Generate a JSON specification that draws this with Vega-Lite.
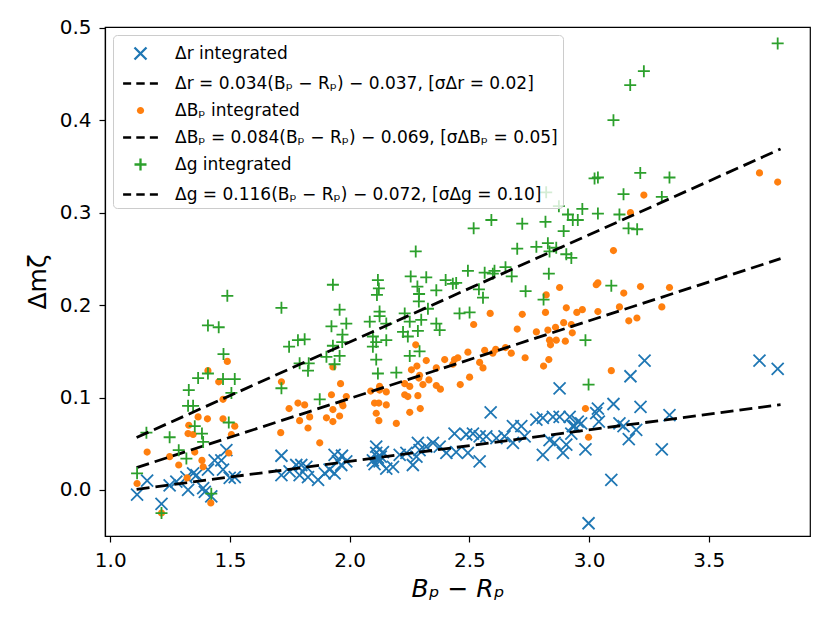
{
  "$schema": "https://vega.github.io/schema/vega-lite/v6.json",
  "width": 705,
  "height": 509,
  "autosize": {"type": "none"},
  "padding": {"left": 105, "top": 27, "right": 20, "bottom": 87},
  "background": "white",
  "config": {
    "font": "DejaVu Sans",
    "view": {"stroke": "black", "strokeWidth": 1.2},
    "axis": {
      "grid": false,
      "domainColor": "black",
      "domainWidth": 1.2,
      "tickColor": "black",
      "tickWidth": 1.2,
      "tickSize": 6,
      "labelColor": "black",
      "titleColor": "black",
      "labelFont": "DejaVu Sans",
      "titleFont": "DejaVu Sans",
      "labelFontSize": 20,
      "titleFontSize": 25,
      "titleFontWeight": "normal",
      "labelOverlap": false,
      "labelFlush": false
    }
  },
  "datasets": {
    "pts": [
      {"s": "r", "x": 1.112, "y": -0.005}, {"s": "r", "x": 1.154, "y": 0.010}, {"s": "r", "x": 1.214, "y": -0.015},
      {"s": "r", "x": 1.248, "y": 0.005}, {"s": "r", "x": 1.276, "y": 0.009}, {"s": "r", "x": 1.325, "y": 0.000},
      {"s": "r", "x": 1.318, "y": 0.014}, {"s": "r", "x": 1.346, "y": 0.018}, {"s": "r", "x": 1.360, "y": 0.016},
      {"s": "r", "x": 1.388, "y": 0.002}, {"s": "r", "x": 1.395, "y": -0.002}, {"s": "r", "x": 1.422, "y": -0.007},
      {"s": "r", "x": 1.408, "y": 0.022}, {"s": "r", "x": 1.436, "y": 0.032}, {"s": "r", "x": 1.464, "y": 0.032},
      {"s": "r", "x": 1.485, "y": 0.043}, {"s": "r", "x": 1.471, "y": 0.022}, {"s": "r", "x": 1.499, "y": 0.013},
      {"s": "r", "x": 1.520, "y": 0.014}, {"s": "r", "x": 1.715, "y": 0.037}, {"s": "r", "x": 1.715, "y": 0.016},
      {"s": "r", "x": 1.749, "y": 0.020}, {"s": "r", "x": 1.777, "y": 0.027}, {"s": "r", "x": 1.798, "y": 0.027},
      {"s": "r", "x": 1.819, "y": 0.025}, {"s": "r", "x": 1.791, "y": 0.016}, {"s": "r", "x": 1.826, "y": 0.014},
      {"s": "r", "x": 1.868, "y": 0.011}, {"s": "r", "x": 1.896, "y": 0.018}, {"s": "r", "x": 1.916, "y": 0.022},
      {"s": "r", "x": 1.937, "y": 0.018}, {"s": "r", "x": 1.937, "y": 0.038}, {"s": "r", "x": 1.951, "y": 0.031},
      {"s": "r", "x": 1.968, "y": 0.037}, {"s": "r", "x": 1.965, "y": 0.027}, {"s": "r", "x": 1.986, "y": 0.031},
      {"s": "r", "x": 2.097, "y": 0.032}, {"s": "r", "x": 2.111, "y": 0.040}, {"s": "r", "x": 2.111, "y": 0.047},
      {"s": "r", "x": 2.125, "y": 0.031}, {"s": "r", "x": 2.139, "y": 0.041}, {"s": "r", "x": 2.153, "y": 0.023},
      {"s": "r", "x": 2.118, "y": 0.035}, {"s": "r", "x": 2.130, "y": 0.036}, {"s": "r", "x": 2.104, "y": 0.028},
      {"s": "r", "x": 2.181, "y": 0.025}, {"s": "r", "x": 2.209, "y": 0.038}, {"s": "r", "x": 2.237, "y": 0.040},
      {"s": "r", "x": 2.264, "y": 0.027}, {"s": "r", "x": 2.279, "y": 0.036}, {"s": "r", "x": 2.292, "y": 0.043},
      {"s": "r", "x": 2.285, "y": 0.051}, {"s": "r", "x": 2.320, "y": 0.047}, {"s": "r", "x": 2.348, "y": 0.051},
      {"s": "r", "x": 2.376, "y": 0.047}, {"s": "r", "x": 2.404, "y": 0.040}, {"s": "r", "x": 2.445, "y": 0.041},
      {"s": "r", "x": 2.494, "y": 0.040}, {"s": "r", "x": 2.543, "y": 0.031}, {"s": "r", "x": 2.438, "y": 0.061},
      {"s": "r", "x": 2.487, "y": 0.060}, {"s": "r", "x": 2.515, "y": 0.061}, {"s": "r", "x": 2.543, "y": 0.058},
      {"s": "r", "x": 2.571, "y": 0.058}, {"s": "r", "x": 2.613, "y": 0.056}, {"s": "r", "x": 2.647, "y": 0.058},
      {"s": "r", "x": 2.682, "y": 0.069}, {"s": "r", "x": 2.717, "y": 0.069}, {"s": "r", "x": 2.731, "y": 0.058},
      {"s": "r", "x": 2.682, "y": 0.051}, {"s": "r", "x": 2.589, "y": 0.084}, {"s": "r", "x": 2.780, "y": 0.076},
      {"s": "r", "x": 2.807, "y": 0.078}, {"s": "r", "x": 2.849, "y": 0.079}, {"s": "r", "x": 2.877, "y": 0.079},
      {"s": "r", "x": 2.877, "y": 0.110}, {"s": "r", "x": 2.932, "y": 0.069}, {"s": "r", "x": 2.835, "y": 0.054},
      {"s": "r", "x": 2.856, "y": 0.051}, {"s": "r", "x": 2.807, "y": 0.038}, {"s": "r", "x": 2.891, "y": 0.040},
      {"s": "r", "x": 2.905, "y": 0.049}, {"s": "r", "x": 2.919, "y": 0.079}, {"s": "r", "x": 2.926, "y": 0.061},
      {"s": "r", "x": 2.939, "y": 0.069}, {"s": "r", "x": 2.953, "y": 0.074}, {"s": "r", "x": 2.967, "y": 0.072},
      {"s": "r", "x": 2.985, "y": 0.044}, {"s": "r", "x": 2.998, "y": -0.036}, {"s": "r", "x": 3.030, "y": 0.083},
      {"s": "r", "x": 3.037, "y": 0.088}, {"s": "r", "x": 3.041, "y": 0.074}, {"s": "r", "x": 3.093, "y": 0.011},
      {"s": "r", "x": 3.102, "y": 0.093}, {"s": "r", "x": 3.127, "y": 0.072}, {"s": "r", "x": 3.144, "y": 0.069},
      {"s": "r", "x": 3.166, "y": 0.055}, {"s": "r", "x": 3.173, "y": 0.123}, {"s": "r", "x": 3.197, "y": 0.065},
      {"s": "r", "x": 3.215, "y": 0.090}, {"s": "r", "x": 3.232, "y": 0.140}, {"s": "r", "x": 3.304, "y": 0.044},
      {"s": "r", "x": 3.336, "y": 0.081}, {"s": "r", "x": 3.712, "y": 0.140}, {"s": "r", "x": 3.788, "y": 0.131},

      {"s": "b", "x": 1.489, "y": 0.139}, {"s": "b", "x": 1.408, "y": 0.129}, {"s": "b", "x": 1.453, "y": 0.117},
      {"s": "b", "x": 1.715, "y": 0.117}, {"s": "b", "x": 1.962, "y": 0.115}, {"s": "b", "x": 1.930, "y": 0.133},
      {"s": "b", "x": 1.924, "y": 0.103}, {"s": "b", "x": 1.471, "y": 0.098}, {"s": "b", "x": 1.747, "y": 0.088},
      {"s": "b", "x": 1.784, "y": 0.094}, {"s": "b", "x": 1.812, "y": 0.092}, {"s": "b", "x": 1.968, "y": 0.094},
      {"s": "b", "x": 1.930, "y": 0.087}, {"s": "b", "x": 1.958, "y": 0.080}, {"s": "b", "x": 1.833, "y": 0.079},
      {"s": "b", "x": 1.791, "y": 0.075}, {"s": "b", "x": 1.903, "y": 0.078}, {"s": "b", "x": 1.930, "y": 0.074},
      {"s": "b", "x": 1.826, "y": 0.067}, {"s": "b", "x": 1.367, "y": 0.079}, {"s": "b", "x": 1.406, "y": 0.077},
      {"s": "b", "x": 1.471, "y": 0.077}, {"s": "b", "x": 1.520, "y": 0.069}, {"s": "b", "x": 1.328, "y": 0.070},
      {"s": "b", "x": 1.325, "y": 0.061}, {"s": "b", "x": 1.346, "y": 0.060}, {"s": "b", "x": 1.506, "y": 0.060},
      {"s": "b", "x": 1.712, "y": 0.062}, {"s": "b", "x": 1.875, "y": 0.051}, {"s": "b", "x": 1.154, "y": 0.041},
      {"s": "b", "x": 1.248, "y": 0.036}, {"s": "b", "x": 1.353, "y": 0.041}, {"s": "b", "x": 1.495, "y": 0.040},
      {"s": "b", "x": 1.286, "y": 0.027}, {"s": "b", "x": 1.383, "y": 0.032}, {"s": "b", "x": 1.388, "y": 0.025},
      {"s": "b", "x": 1.321, "y": 0.013}, {"s": "b", "x": 1.112, "y": 0.007}, {"s": "b", "x": 1.420, "y": -0.014},
      {"s": "b", "x": 1.214, "y": -0.025}, {"s": "b", "x": 2.877, "y": 0.219}, {"s": "b", "x": 2.821, "y": 0.211},
      {"s": "b", "x": 2.587, "y": 0.191}, {"s": "b", "x": 2.721, "y": 0.190}, {"s": "b", "x": 2.818, "y": 0.192},
      {"s": "b", "x": 2.905, "y": 0.197}, {"s": "b", "x": 2.949, "y": 0.192}, {"s": "b", "x": 2.518, "y": 0.179},
      {"s": "b", "x": 2.700, "y": 0.174}, {"s": "b", "x": 2.780, "y": 0.171}, {"s": "b", "x": 2.828, "y": 0.173},
      {"s": "b", "x": 2.860, "y": 0.176}, {"s": "b", "x": 2.894, "y": 0.181}, {"s": "b", "x": 2.926, "y": 0.179},
      {"s": "b", "x": 2.835, "y": 0.162}, {"s": "b", "x": 2.839, "y": 0.157}, {"s": "b", "x": 2.863, "y": 0.162},
      {"s": "b", "x": 2.901, "y": 0.161}, {"s": "b", "x": 2.276, "y": 0.157}, {"s": "b", "x": 2.494, "y": 0.149},
      {"s": "b", "x": 2.564, "y": 0.151}, {"s": "b", "x": 2.610, "y": 0.152}, {"s": "b", "x": 2.598, "y": 0.148},
      {"s": "b", "x": 2.651, "y": 0.154}, {"s": "b", "x": 2.675, "y": 0.148}, {"s": "b", "x": 2.733, "y": 0.143},
      {"s": "b", "x": 2.832, "y": 0.141}, {"s": "b", "x": 2.810, "y": 0.134}, {"s": "b", "x": 2.320, "y": 0.140},
      {"s": "b", "x": 2.397, "y": 0.141}, {"s": "b", "x": 2.438, "y": 0.141}, {"s": "b", "x": 2.452, "y": 0.143},
      {"s": "b", "x": 2.431, "y": 0.136}, {"s": "b", "x": 2.543, "y": 0.138}, {"s": "b", "x": 2.557, "y": 0.132},
      {"s": "b", "x": 2.362, "y": 0.132}, {"s": "b", "x": 2.258, "y": 0.130}, {"s": "b", "x": 2.281, "y": 0.134},
      {"s": "b", "x": 2.292, "y": 0.124}, {"s": "b", "x": 2.289, "y": 0.121}, {"s": "b", "x": 2.331, "y": 0.119},
      {"s": "b", "x": 2.306, "y": 0.114}, {"s": "b", "x": 2.501, "y": 0.122}, {"s": "b", "x": 2.462, "y": 0.114},
      {"s": "b", "x": 2.362, "y": 0.113}, {"s": "b", "x": 2.379, "y": 0.109}, {"s": "b", "x": 2.230, "y": 0.115},
      {"s": "b", "x": 2.251, "y": 0.112}, {"s": "b", "x": 2.125, "y": 0.112}, {"s": "b", "x": 2.125, "y": 0.108},
      {"s": "b", "x": 2.153, "y": 0.106}, {"s": "b", "x": 2.088, "y": 0.107}, {"s": "b", "x": 2.230, "y": 0.103},
      {"s": "b", "x": 2.243, "y": 0.101}, {"s": "b", "x": 2.285, "y": 0.102}, {"s": "b", "x": 1.986, "y": 0.101},
      {"s": "b", "x": 1.972, "y": 0.091}, {"s": "b", "x": 2.104, "y": 0.094}, {"s": "b", "x": 2.122, "y": 0.094},
      {"s": "b", "x": 2.153, "y": 0.092}, {"s": "b", "x": 2.295, "y": 0.088}, {"s": "b", "x": 2.111, "y": 0.083},
      {"s": "b", "x": 2.251, "y": 0.084}, {"s": "b", "x": 2.122, "y": 0.075}, {"s": "b", "x": 2.195, "y": 0.072},
      {"s": "b", "x": 3.712, "y": 0.343}, {"s": "b", "x": 3.788, "y": 0.333}, {"s": "b", "x": 3.229, "y": 0.319},
      {"s": "b", "x": 3.173, "y": 0.300}, {"s": "b", "x": 3.102, "y": 0.259}, {"s": "b", "x": 3.030, "y": 0.222},
      {"s": "b", "x": 3.037, "y": 0.224}, {"s": "b", "x": 3.145, "y": 0.213}, {"s": "b", "x": 3.215, "y": 0.220},
      {"s": "b", "x": 3.336, "y": 0.219}, {"s": "b", "x": 2.972, "y": 0.195}, {"s": "b", "x": 3.037, "y": 0.193},
      {"s": "b", "x": 3.127, "y": 0.198}, {"s": "b", "x": 3.304, "y": 0.198}, {"s": "b", "x": 2.930, "y": 0.170},
      {"s": "b", "x": 3.166, "y": 0.183}, {"s": "b", "x": 3.200, "y": 0.186}, {"s": "b", "x": 3.093, "y": 0.129},
      {"s": "b", "x": 2.985, "y": 0.088}, {"s": "b", "x": 2.998, "y": 0.057},

      {"s": "g", "x": 1.489, "y": 0.210}, {"s": "g", "x": 1.930, "y": 0.222}, {"s": "g", "x": 1.715, "y": 0.197},
      {"s": "g", "x": 1.958, "y": 0.195}, {"s": "g", "x": 1.408, "y": 0.178}, {"s": "g", "x": 1.453, "y": 0.176},
      {"s": "g", "x": 1.924, "y": 0.177}, {"s": "g", "x": 1.970, "y": 0.168}, {"s": "g", "x": 1.969, "y": 0.160},
      {"s": "g", "x": 1.784, "y": 0.162}, {"s": "g", "x": 1.812, "y": 0.163}, {"s": "g", "x": 1.747, "y": 0.155},
      {"s": "g", "x": 1.930, "y": 0.156}, {"s": "g", "x": 1.473, "y": 0.147}, {"s": "g", "x": 1.903, "y": 0.144},
      {"s": "g", "x": 1.958, "y": 0.145}, {"s": "g", "x": 1.791, "y": 0.137}, {"s": "g", "x": 1.829, "y": 0.137},
      {"s": "g", "x": 1.826, "y": 0.129}, {"s": "g", "x": 1.937, "y": 0.136}, {"s": "g", "x": 1.367, "y": 0.121},
      {"s": "g", "x": 1.408, "y": 0.126}, {"s": "g", "x": 1.471, "y": 0.120}, {"s": "g", "x": 1.520, "y": 0.120},
      {"s": "g", "x": 1.715, "y": 0.110}, {"s": "g", "x": 1.328, "y": 0.108}, {"s": "g", "x": 1.506, "y": 0.105},
      {"s": "g", "x": 1.325, "y": 0.091}, {"s": "g", "x": 1.346, "y": 0.091}, {"s": "g", "x": 1.875, "y": 0.098},
      {"s": "g", "x": 1.353, "y": 0.069}, {"s": "g", "x": 1.495, "y": 0.073}, {"s": "g", "x": 1.151, "y": 0.062},
      {"s": "g", "x": 1.248, "y": 0.057}, {"s": "g", "x": 1.383, "y": 0.061}, {"s": "g", "x": 1.388, "y": 0.052},
      {"s": "g", "x": 1.286, "y": 0.043}, {"s": "g", "x": 1.318, "y": 0.034}, {"s": "g", "x": 1.112, "y": 0.018},
      {"s": "g", "x": 1.422, "y": -0.004}, {"s": "g", "x": 1.214, "y": -0.025},
      {"s": "g", "x": 2.125, "y": 0.193}, {"s": "g", "x": 2.125, "y": 0.188}, {"s": "g", "x": 2.230, "y": 0.191},
      {"s": "g", "x": 2.327, "y": 0.196}, {"s": "g", "x": 2.459, "y": 0.191}, {"s": "g", "x": 2.501, "y": 0.192},
      {"s": "g", "x": 1.986, "y": 0.180}, {"s": "g", "x": 2.084, "y": 0.182}, {"s": "g", "x": 2.153, "y": 0.180},
      {"s": "g", "x": 2.251, "y": 0.182}, {"s": "g", "x": 2.299, "y": 0.184}, {"s": "g", "x": 2.362, "y": 0.180},
      {"s": "g", "x": 2.376, "y": 0.173}, {"s": "g", "x": 2.097, "y": 0.166}, {"s": "g", "x": 2.111, "y": 0.160},
      {"s": "g", "x": 2.153, "y": 0.162}, {"s": "g", "x": 2.223, "y": 0.171}, {"s": "g", "x": 2.243, "y": 0.166},
      {"s": "g", "x": 2.285, "y": 0.172}, {"s": "g", "x": 2.097, "y": 0.155}, {"s": "g", "x": 2.292, "y": 0.150},
      {"s": "g", "x": 2.251, "y": 0.145}, {"s": "g", "x": 2.111, "y": 0.141}, {"s": "g", "x": 2.118, "y": 0.126},
      {"s": "g", "x": 2.195, "y": 0.127}, {"s": "g", "x": 2.118, "y": 0.227}, {"s": "g", "x": 2.122, "y": 0.218},
      {"s": "g", "x": 2.114, "y": 0.211}, {"s": "g", "x": 2.255, "y": 0.231}, {"s": "g", "x": 2.320, "y": 0.230},
      {"s": "g", "x": 2.283, "y": 0.220}, {"s": "g", "x": 2.290, "y": 0.212}, {"s": "g", "x": 2.289, "y": 0.204},
      {"s": "g", "x": 2.401, "y": 0.227}, {"s": "g", "x": 2.431, "y": 0.223}, {"s": "g", "x": 2.445, "y": 0.224},
      {"s": "g", "x": 2.362, "y": 0.216}, {"s": "g", "x": 2.540, "y": 0.217}, {"s": "g", "x": 2.557, "y": 0.208},
      {"s": "g", "x": 2.735, "y": 0.215}, {"s": "g", "x": 2.810, "y": 0.206}, {"s": "g", "x": 2.821, "y": 0.322},
      {"s": "g", "x": 2.874, "y": 0.307}, {"s": "g", "x": 2.912, "y": 0.298}, {"s": "g", "x": 2.932, "y": 0.292},
      {"s": "g", "x": 2.953, "y": 0.292}, {"s": "g", "x": 2.592, "y": 0.292}, {"s": "g", "x": 2.518, "y": 0.283},
      {"s": "g", "x": 2.721, "y": 0.288}, {"s": "g", "x": 2.818, "y": 0.290}, {"s": "g", "x": 2.894, "y": 0.280},
      {"s": "g", "x": 2.276, "y": 0.258}, {"s": "g", "x": 2.700, "y": 0.261}, {"s": "g", "x": 2.780, "y": 0.263},
      {"s": "g", "x": 2.828, "y": 0.267}, {"s": "g", "x": 2.835, "y": 0.258}, {"s": "g", "x": 2.863, "y": 0.262},
      {"s": "g", "x": 2.905, "y": 0.255}, {"s": "g", "x": 2.926, "y": 0.251}, {"s": "g", "x": 2.494, "y": 0.237},
      {"s": "g", "x": 2.564, "y": 0.235}, {"s": "g", "x": 2.605, "y": 0.237}, {"s": "g", "x": 2.598, "y": 0.234},
      {"s": "g", "x": 2.651, "y": 0.241}, {"s": "g", "x": 2.677, "y": 0.231}, {"s": "g", "x": 2.832, "y": 0.234},
      {"s": "g", "x": 3.788, "y": 0.483}, {"s": "g", "x": 3.229, "y": 0.453}, {"s": "g", "x": 3.172, "y": 0.438},
      {"s": "g", "x": 3.102, "y": 0.400}, {"s": "g", "x": 3.023, "y": 0.337}, {"s": "g", "x": 3.037, "y": 0.338},
      {"s": "g", "x": 3.214, "y": 0.343}, {"s": "g", "x": 3.336, "y": 0.338}, {"s": "g", "x": 3.144, "y": 0.320},
      {"s": "g", "x": 3.304, "y": 0.317}, {"s": "g", "x": 2.972, "y": 0.304}, {"s": "g", "x": 3.037, "y": 0.299},
      {"s": "g", "x": 3.127, "y": 0.298}, {"s": "g", "x": 3.165, "y": 0.283}, {"s": "g", "x": 3.201, "y": 0.282},
      {"s": "g", "x": 3.093, "y": 0.221}, {"s": "g", "x": 2.985, "y": 0.162}, {"s": "g", "x": 2.998, "y": 0.114}
    ],
    "fits": [
      {"s": "rf", "x": 1.11, "y": 0.0007}, {"s": "rf", "x": 3.80, "y": 0.0922},
      {"s": "bf", "x": 1.11, "y": 0.0242}, {"s": "bf", "x": 3.80, "y": 0.2502},
      {"s": "gf", "x": 1.11, "y": 0.0568}, {"s": "gf", "x": 3.80, "y": 0.3688}
    ]
  },
  "layer": [
    {
      "data": {"name": "pts"},
      "transform": [{"filter": "datum.s === 'r'"}],
      "mark": {"type": "point", "size": 576, "strokeWidth": 1.8, "opacity": 1},
      "encoding": {
        "x": {
          "field": "x", "type": "quantitative",
          "scale": {"domain": [0.978, 3.923], "nice": false, "zero": false},
          "axis": {"values": [1, 1.5, 2, 2.5, 3, 3.5], "format": ".1f", "title": "Bₚ − Rₚ", "titleFontStyle": "italic", "labelPadding": 8, "titlePadding": 6}
        },
        "y": {
          "field": "y", "type": "quantitative",
          "scale": {"domain": [-0.0498, 0.5008], "nice": false, "zero": false},
          "axis": {"values": [0, 0.1, 0.2, 0.3, 0.4, 0.5], "format": ".1f", "title": "Δmζ", "labelPadding": 8, "titlePadding": 9}
        },
        "stroke": {
          "field": "s", "type": "nominal",
          "scale": {"domain": ["r", "rf", "b", "bf", "g", "gf"], "range": ["#1f77b4", "#000000", "transparent", "#000000", "#2ca02c", "#000000"]},
          "legend": {
            "title": null,
            "orient": "top-left",
            "offset": 8,
            "padding": 5,
            "rowPadding": 5,
            "symbolSize": 576,
            "symbolStrokeWidth": 2.3,
            "symbolOffset": 9,
            "labelOffset": 21,
            "labelFont": "DejaVu Sans",
            "labelFontSize": 17,
            "labelColor": "black",
            "labelLimit": 700,
            "fillColor": "rgba(255,255,255,0.8)",
            "strokeColor": "#cccccc",
            "cornerRadius": 4,
            "labelExpr": "datum.value === 'r' ? 'Δr integrated' : datum.value === 'rf' ? 'Δr = 0.034(Bₚ − Rₚ) − 0.037, [σΔr = 0.02]' : datum.value === 'b' ? 'ΔBₚ integrated' : datum.value === 'bf' ? 'ΔBₚ = 0.084(Bₚ − Rₚ) − 0.069, [σΔBₚ = 0.05]' : datum.value === 'g' ? 'Δg integrated' : 'Δg = 0.116(Bₚ − Rₚ) − 0.072, [σΔg = 0.10]'"
          }
        },
        "fill": {
          "field": "s", "type": "nominal",
          "scale": {"domain": ["r", "rf", "b", "bf", "g", "gf"], "range": ["transparent", "transparent", "#ff7f0e", "transparent", "transparent", "transparent"]},
          "legend": {"title": null}
        },
        "shape": {
          "field": "s", "type": "nominal",
          "scale": {"domain": ["r", "rf", "b", "bf", "g", "gf"], "range": ["M-0.5,-0.5L0.5,0.5M-0.5,0.5L0.5,-0.5", "M-1.45,0L-0.78,0M-0.35,0L0.35,0M0.78,0L1.45,0", "M0.3,0A0.3,0.3,0,1,1,-0.3,0A0.3,0.3,0,1,1,0.3,0Z", "M-1.45,0L-0.78,0M-0.35,0L0.35,0M0.78,0L1.45,0", "M-0.5,0L0.5,0M0,-0.5L0,0.5", "M-1.45,0L-0.78,0M-0.35,0L0.35,0M0.78,0L1.45,0"]},
          "legend": {"title": null}
        }
      }
    },
    {
      "data": {"name": "fits"},
      "transform": [{"filter": "datum.s === 'rf'"}],
      "mark": {"type": "line", "strokeDash": [13, 6], "strokeWidth": 2.8},
      "encoding": {
        "x": {"field": "x", "type": "quantitative"},
        "y": {"field": "y", "type": "quantitative"},
        "stroke": {"field": "s", "type": "nominal", "legend": null}
      }
    },
    {
      "data": {"name": "pts"},
      "transform": [{"filter": "datum.s === 'b'"}],
      "mark": {"type": "point", "size": 576, "strokeWidth": 0, "opacity": 1},
      "encoding": {
        "x": {"field": "x", "type": "quantitative"},
        "y": {"field": "y", "type": "quantitative"},
        "stroke": {"field": "s", "type": "nominal", "legend": null},
        "fill": {"field": "s", "type": "nominal", "legend": null},
        "shape": {"field": "s", "type": "nominal", "legend": null}
      }
    },
    {
      "data": {"name": "fits"},
      "transform": [{"filter": "datum.s === 'bf'"}],
      "mark": {"type": "line", "strokeDash": [13, 6], "strokeWidth": 2.8},
      "encoding": {
        "x": {"field": "x", "type": "quantitative"},
        "y": {"field": "y", "type": "quantitative"},
        "stroke": {"field": "s", "type": "nominal", "legend": null}
      }
    },
    {
      "data": {"name": "pts"},
      "transform": [{"filter": "datum.s === 'g'"}],
      "mark": {"type": "point", "size": 576, "strokeWidth": 1.8, "opacity": 1},
      "encoding": {
        "x": {"field": "x", "type": "quantitative"},
        "y": {"field": "y", "type": "quantitative"},
        "stroke": {"field": "s", "type": "nominal", "legend": null},
        "fill": {"field": "s", "type": "nominal", "legend": null},
        "shape": {"field": "s", "type": "nominal", "legend": null}
      }
    },
    {
      "data": {"name": "fits"},
      "transform": [{"filter": "datum.s === 'gf'"}],
      "mark": {"type": "line", "strokeDash": [13, 6], "strokeWidth": 2.8},
      "encoding": {
        "x": {"field": "x", "type": "quantitative"},
        "y": {"field": "y", "type": "quantitative"},
        "stroke": {"field": "s", "type": "nominal", "legend": null}
      }
    }
  ]
}
